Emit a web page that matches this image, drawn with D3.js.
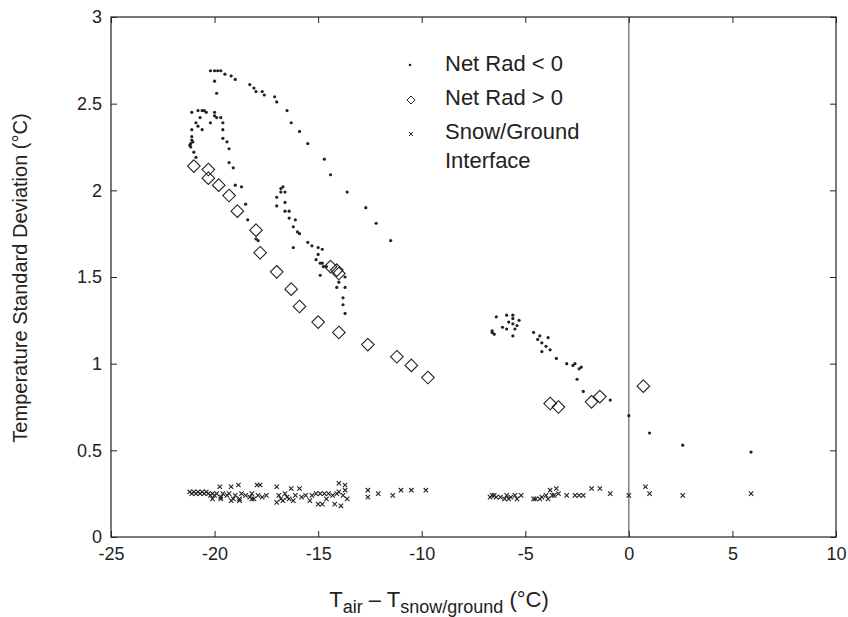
<!DOCTYPE html>
<html><head><meta charset="utf-8">
<script src="https://cdn.jsdelivr.net/npm/d3@7"></script>
<style>body{margin:0;background:#fff}svg{display:block}text{font-family:"Liberation Sans",Arial,sans-serif;fill:#222}</style>
</head><body><svg id="c" width="848" height="617"></svg>
<script>
const xTicks = [-25,-20,-15,-10,-5,0,5,10];
const xTickLabels = ["-25","-20","-15","-10","-5","0","5","10"];
const yTicks = [0,0.5,1,1.5,2,2.5,3];
const yTickLabels = ["0","0.5","1","1.5","2","2.5","3"];
const legendLabels = ["Net Rad < 0","Net Rad > 0","Snow/Ground","Interface"];

// Net Rad < 0  [x, y]
const netRadNeg = [
 [-20.2,2.69],[-20.0,2.69],[-19.85,2.69],[-19.7,2.69],[-19.5,2.67],[-19.2,2.66],[-19.0,2.64],[-18.3,2.61],[-18.1,2.59],[-18.0,2.57],[-17.7,2.57],[-17.6,2.55],[-17.1,2.54],[-17.0,2.51],[-16.5,2.46],[-16.3,2.39],[-15.9,2.34],[-15.5,2.27],[-14.7,2.18],[-14.4,2.09],[-13.6,1.99],[-12.7,1.90],[-12.2,1.81],[-11.5,1.71],[-20.0,2.63],[-19.9,2.56],
 [-21.1,2.45],[-20.8,2.46],[-20.6,2.46],[-20.5,2.46],[-20.4,2.45],[-20.0,2.45],[-20.0,2.43],[-19.9,2.42],[-19.7,2.42],[-19.6,2.39],[-19.6,2.35],[-19.6,2.30],[-19.4,2.28],[-19.3,2.24],[-19.3,2.16],[-19.1,2.13],[-19.0,2.03],[-18.7,2.02],[-18.5,1.92],[-18.4,1.83],[-18.0,1.72],[-17.9,1.71],
 [-20.7,2.42],[-20.9,2.39],[-20.8,2.37],[-21.1,2.35],[-20.6,2.35],[-21.1,2.31],[-21.1,2.29],[-21.15,2.27],[-21.2,2.26],[-21.0,2.22],[-20.9,2.19],[-20.2,2.39],[-21.15,2.25],[-21.05,2.28],
 [-16.7,2.02],[-16.8,2.01],[-16.8,1.99],[-16.6,1.99],[-17.0,1.96],[-17.0,1.91],[-16.6,1.93],[-16.6,1.88],[-16.4,1.88],[-16.4,1.84],[-16.1,1.83],[-16.2,1.79],[-16.0,1.76],[-15.9,1.75],[-16.2,1.67],[-15.5,1.70],[-15.3,1.68],[-15.0,1.67],[-14.8,1.66],[-15.0,1.63],[-15.1,1.60],[-14.9,1.58],[-14.8,1.58],[-14.9,1.51],[-13.7,1.50],[-14.0,1.47],[-13.7,1.44],[-14.1,1.44],[-13.8,1.38],[-13.8,1.34],[-13.7,1.29],[-14.75,1.56],[-14.6,1.56],
 [-6.6,1.18],[-6.6,1.19],[-6.5,1.17],[-6.4,1.27],[-5.9,1.28],[-6.1,1.21],[-5.9,1.20],[-5.8,1.24],[-5.6,1.26],[-5.6,1.23],[-5.4,1.22],[-5.3,1.25],[-5.5,1.20],[-5.6,1.16],[-5.6,1.28],[-4.6,1.18],[-4.3,1.16],[-3.9,1.15],[-4.4,1.14],[-4.2,1.12],[-4.0,1.10],[-3.8,1.08],[-4.2,1.07],[-3.5,1.03],[-3.0,1.00],[-2.7,0.99],[-2.6,1.00],[-2.3,0.98],[-2.4,0.97],[-2.5,0.91],[-2.2,0.84],[-0.9,0.79],[0.0,0.70],[1.0,0.60],[2.6,0.53],[5.9,0.49]
];

// Net Rad > 0
const netRadPos = [
 [-21.0,2.14],[-20.3,2.12],[-20.3,2.07],[-19.8,2.03],[-19.3,1.97],[-18.9,1.88],[-18.0,1.77],[-17.8,1.64],[-17.0,1.53],[-16.3,1.43],[-15.9,1.33],[-15.0,1.24],[-14.0,1.18],[-12.6,1.11],[-11.2,1.04],[-10.5,0.99],[-9.7,0.92],[-14.4,1.56],[-14.1,1.54],[-14.0,1.52],[-3.8,0.77],[-3.4,0.75],[-1.8,0.78],[-1.4,0.81],[0.7,0.87]
];

// Snow/Ground interface
const snowGround = [
 [-21.2,0.26],[-21.1,0.25],[-21.0,0.26],[-20.9,0.25],[-20.8,0.26],[-20.7,0.25],[-20.6,0.26],[-20.5,0.25],[-20.4,0.26],[-20.3,0.25],[-20.2,0.24],[-20.1,0.25],[-20.0,0.24],[-19.9,0.25],[-19.75,0.29],[-19.7,0.23],[-19.6,0.25],[-19.4,0.24],[-19.3,0.25],[-19.2,0.29],[-19.1,0.22],[-19.0,0.24],[-18.85,0.30],[-18.8,0.22],[-18.7,0.25],[-18.5,0.24],[-18.3,0.23],[-18.2,0.25],[-18.1,0.22],[-17.95,0.30],[-17.8,0.30],[-17.9,0.24],[-17.7,0.23],[-17.5,0.24],
 [-20.1,0.22],[-19.7,0.22],[-19.2,0.21],[-18.8,0.21],[-18.2,0.22],
 [-17.0,0.29],[-17.0,0.20],[-16.9,0.24],[-16.8,0.22],[-16.7,0.21],[-16.6,0.25],[-16.5,0.23],[-16.4,0.22],[-16.3,0.28],[-16.2,0.21],[-16.1,0.24],[-15.9,0.28],[-15.8,0.23],[-15.6,0.24],[-15.4,0.21],[-15.3,0.24],[-15.1,0.25],[-15.0,0.19],[-14.9,0.25],[-14.8,0.19],[-14.7,0.25],[-14.6,0.22],[-14.5,0.25],[-14.3,0.24],[-14.2,0.19],[-14.1,0.25],[-14.0,0.31],[-14.0,0.26],[-13.9,0.18],[-13.8,0.24],[-13.7,0.30],[-13.7,0.27],[-13.6,0.22],
 [-12.6,0.27],[-12.6,0.23],[-12.1,0.25],[-11.4,0.24],[-11.0,0.27],[-10.5,0.27],[-9.8,0.27],
 [-6.7,0.23],[-6.6,0.24],[-6.5,0.24],[-6.4,0.23],[-6.2,0.23],[-6.0,0.22],[-5.9,0.24],[-5.8,0.22],[-5.7,0.23],[-5.5,0.24],[-5.4,0.22],[-5.2,0.24],
 [-4.6,0.22],[-4.5,0.22],[-4.3,0.22],[-4.2,0.23],[-4.0,0.24],[-3.9,0.22],[-3.8,0.27],[-3.7,0.24],[-3.6,0.24],[-3.5,0.28],[-3.4,0.25],
 [-3.0,0.24],[-2.6,0.24],[-2.4,0.24],[-2.2,0.24],[-1.8,0.28],[-1.4,0.28],[-0.9,0.25],[0.0,0.24],[0.8,0.29],[1.0,0.25],[2.6,0.24],[5.9,0.25]
];

const svg = d3.select("#c");
const L=111, R=836, T=17, B=537;
const x = d3.scaleLinear().domain([-25,10]).range([L,R]);
const y = d3.scaleLinear().domain([0,3]).range([B,T]);
const ink = "#222";

// frame
svg.append("rect").attr("x",L).attr("y",T).attr("width",R-L).attr("height",B-T)
  .attr("fill","none").attr("stroke",ink).attr("stroke-width",1.2);

// axes with inward ticks
const gx = svg.append("g").attr("transform",`translate(0,${B})`)
  .call(d3.axisBottom(x).tickValues(xTicks).tickSize(-6).tickPadding(10).tickFormat((d,i)=>xTickLabels[i]));
const gxt = svg.append("g").attr("transform",`translate(0,${T})`)
  .call(d3.axisTop(x).tickValues(xTicks).tickSize(-6).tickFormat(""));
const gy = svg.append("g").attr("transform",`translate(${L},0)`)
  .call(d3.axisLeft(y).tickValues(yTicks).tickSize(-6).tickPadding(9).tickFormat((d,i)=>yTickLabels[i]));
const gyr = svg.append("g").attr("transform",`translate(${R},0)`)
  .call(d3.axisRight(y).tickValues(yTicks).tickSize(-6).tickFormat(""));
[gx,gxt,gy,gyr].forEach(g=>{
  g.select(".domain").remove();
  g.selectAll("line").attr("stroke",ink);
  g.selectAll("text").style("font-size","18px").attr("fill",ink).style("font-family","'Liberation Sans',Arial,sans-serif");
});

// zero line
svg.append("line").attr("x1",x(0)).attr("x2",x(0)).attr("y1",T).attr("y2",B)
  .attr("stroke","#444").attr("stroke-width",1);

// Net rad < 0 dots
svg.append("g").selectAll("circle").data(netRadNeg).join("circle")
  .attr("cx",d=>x(d[0])).attr("cy",d=>y(d[1])).attr("r",1.6).attr("fill",ink);

// diamonds
const dsz = 6.3;
svg.append("g").selectAll("path").data(netRadPos).join("path")
  .attr("d",d=>{const cx=x(d[0]),cy=y(d[1]);return `M${cx},${cy-dsz}L${cx+dsz},${cy}L${cx},${cy+dsz}L${cx-dsz},${cy}Z`;})
  .attr("fill","none").attr("stroke",ink).attr("stroke-width",1.1);

// x markers
const xs = 2.2;
svg.append("g").selectAll("path").data(snowGround).join("path")
  .attr("d",d=>{const cx=x(d[0]),cy=y(d[1]);return `M${cx-xs},${cy-xs}L${cx+xs},${cy+xs}M${cx-xs},${cy+xs}L${cx+xs},${cy-xs}`;})
  .attr("stroke",ink).attr("stroke-width",1.1);

// legend
const lg = svg.append("g");
lg.append("circle").attr("cx",410).attr("cy",65).attr("r",1.3).attr("fill",ink);
lg.append("path").attr("d","M411,96L415,100L411,104L407,100Z").attr("fill","none").attr("stroke",ink).attr("stroke-width",1);
lg.append("path").attr("d","M409,132L413,136M409,136L413,132").attr("stroke",ink).attr("stroke-width",1);
const ly=[71,105,139,168];
legendLabels.forEach((t,i)=>lg.append("text").attr("x",445).attr("y",ly[i]).style("font-size","22px").text(t));

// axis titles
svg.append("text").attr("transform","translate(27,278) rotate(-90)").attr("text-anchor","middle")
  .style("font-size","20px").text("Temperature Standard Deviation (°C)");
const xt = svg.append("text").attr("x",439).attr("y",607).attr("text-anchor","middle").style("font-size","22px");
xt.append("tspan").text("T");
xt.append("tspan").attr("dy",6).style("font-size","18px").text("air");
xt.append("tspan").attr("dy",-6).text(" – T");
xt.append("tspan").attr("dy",6).style("font-size","18px").text("snow/ground");
xt.append("tspan").attr("dy",-6).text(" (°C)");
</script></body></html>
